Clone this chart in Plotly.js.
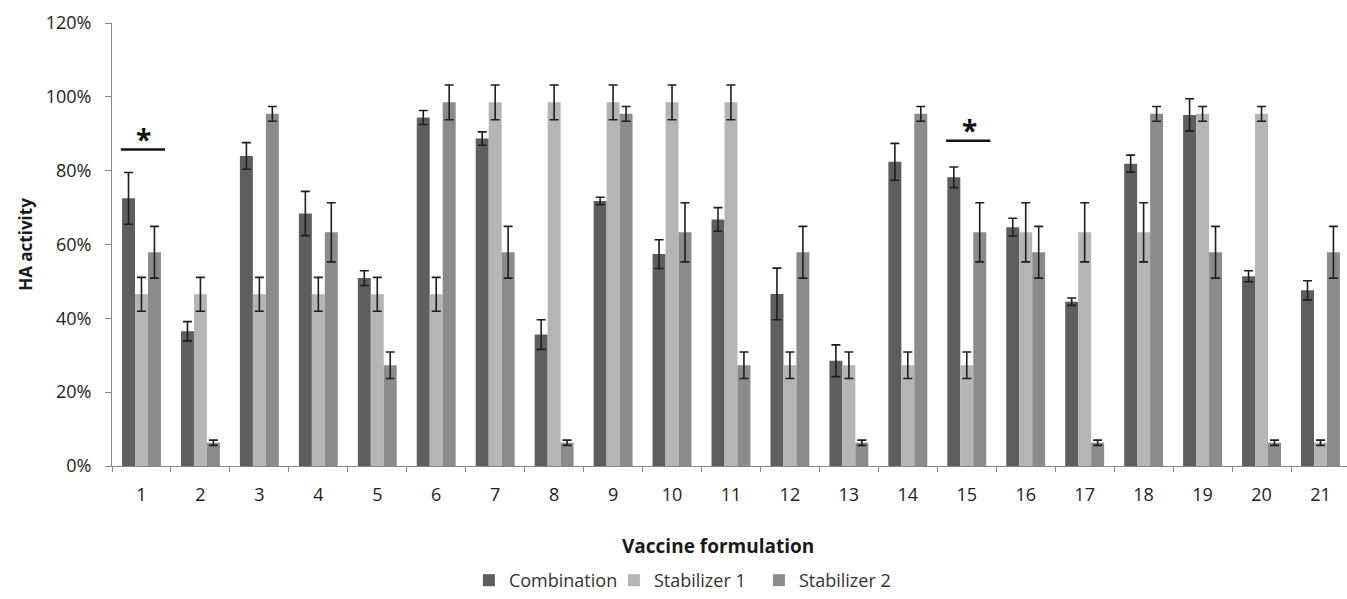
<!DOCTYPE html>
<html>
<head>
<meta charset="utf-8">
<script src="https://cdn.plot.ly/plotly-3.0.1.min.js"></script>
<style>html,body{margin:0;padding:0;background:#fff;}#chart{width:1347px;height:599px;}</style>
</head>
<body>
<div id="chart"></div>
<script>
var categories = ["1","2","3","4","5","6","7","8","9","10","11","12","13","14","15","16","17","18","19","20","21"];
var combination = [72.5, 36.5, 84.0, 68.4, 50.9, 94.4, 88.7, 35.6, 71.8, 57.4, 66.8, 46.6, 28.5, 82.4, 78.2, 64.7, 44.5, 81.9, 95.1, 51.4, 47.6];
var combinationErr = [7.0, 2.6, 3.6, 6.0, 2.0, 1.9, 1.8, 4.0, 1.0, 3.9, 3.2, 7.0, 4.3, 5.0, 2.8, 2.4, 1.0, 2.3, 4.4, 1.5, 2.6];
var stabilizer1 = [46.5, 46.5, 46.5, 46.5, 46.5, 46.5, 98.5, 98.5, 98.5, 98.5, 98.5, 27.3, 27.3, 27.3, 27.3, 63.3, 63.3, 63.3, 95.4, 95.4, 6.3];
var stabilizer1Err = [4.6, 4.6, 4.6, 4.6, 4.6, 4.6, 4.7, 4.7, 4.7, 4.7, 4.7, 3.6, 3.6, 3.6, 3.6, 8.0, 8.0, 8.0, 2.0, 2.0, 0.7];
var stabilizer2 = [57.9, 6.3, 95.4, 63.3, 27.3, 98.5, 57.9, 6.3, 95.4, 63.3, 27.3, 57.9, 6.3, 95.4, 63.3, 57.9, 6.3, 95.4, 57.9, 6.3, 57.9];
var stabilizer2Err = [7.0, 0.7, 2.0, 8.0, 3.6, 4.7, 7.0, 0.7, 2.0, 8.0, 3.6, 7.0, 0.7, 2.0, 8.0, 7.0, 0.7, 2.0, 7.0, 0.7, 7.0];
var yTicks = [0, 20, 40, 60, 80, 100, 120];
var yTickText = ["0%", "20%", "40%", "60%", "80%", "100%", "120%"];
var significantGroups = ["1", "15"];
var significanceLevel = [85.7, 88.1];

var FONT = "'Open Sans', sans-serif";
function errBar(arr) {
  return {type: "data", array: arr, visible: true, color: "#1e1e1e", thickness: 1.6, width: 4.5};
}
var traces = [
  {type: "bar", name: "Combination", x: categories, y: combination, error_y: errBar(combinationErr), marker: {color: "#5e5e5e"}},
  {type: "bar", name: "Stabilizer 1", x: categories, y: stabilizer1, error_y: errBar(stabilizer1Err), marker: {color: "#b5b5b5"}},
  {type: "bar", name: "Stabilizer 2", x: categories, y: stabilizer2, error_y: errBar(stabilizer2Err), marker: {color: "#8b8b8b"}}
];

var shapes = [];
var annotations = [];
significantGroups.forEach(function (g, i) {
  var idx = categories.indexOf(g);
  shapes.push({type: "line", xref: "x", yref: "y", x0: idx - 0.35, x1: idx + 0.4,
    y0: significanceLevel[i], y1: significanceLevel[i], line: {color: "#111", width: 2.5}});
  annotations.push({xref: "x", yref: "y", x: idx + 0.04, y: significanceLevel[i], text: "<b>*</b>",
    showarrow: false, yanchor: "bottom", yshift: -10, font: {family: FONT, size: 28, color: "#111"}});
});
annotations.push({xref: "paper", yref: "paper", x: 0.4907, y: -0.18, text: "<b>Vaccine formulation</b>",
  showarrow: false, xanchor: "center", yanchor: "middle", font: {family: FONT, size: 19, color: "#1a1a1a"}});

var layout = {
  width: 1347, height: 599,
  margin: {l: 112, r: 0, t: 23, b: 132},
  paper_bgcolor: "#fff", plot_bgcolor: "#fff",
  barmode: "group", bargap: 0.34, bargroupgap: 0,
  font: {family: FONT, size: 18, color: "#333"},
  showlegend: true,
  legend: {orientation: "h", x: 0.289, xanchor: "left", y: -0.258, yanchor: "middle",
    font: {family: FONT, size: 18, color: "#333"}, traceorder: "normal", itemwidth: 30,
    entrywidth: 100, entrywidthmode: "pixels"},
  xaxis: {type: "category", range: [-0.5, 20.45], showgrid: false, zeroline: false,
    showline: true, linecolor: "#888", linewidth: 1, ticks: "outside", tickson: "boundaries",
    ticklen: 5, tickcolor: "#888", ticklabelstandoff: 12, tickfont: {family: FONT, size: 18, color: "#222"}},
  yaxis: {range: [0, 120], tickvals: yTicks, ticktext: yTickText, showgrid: false, zeroline: false,
    showline: true, linecolor: "#888", linewidth: 1, ticks: "outside", ticklen: 6, tickcolor: "#888",
    ticklabelstandoff: 10, tickfont: {family: FONT, size: 18, color: "#222"},
    title: {text: "<b>HA activity</b>", font: {family: FONT, size: 17, color: "#1a1a1a"}, standoff: 8}},
  shapes: shapes,
  annotations: annotations
};
Plotly.newPlot("chart", traces, layout, {displayModeBar: false, staticPlot: true});
</script>
</body>
</html>
